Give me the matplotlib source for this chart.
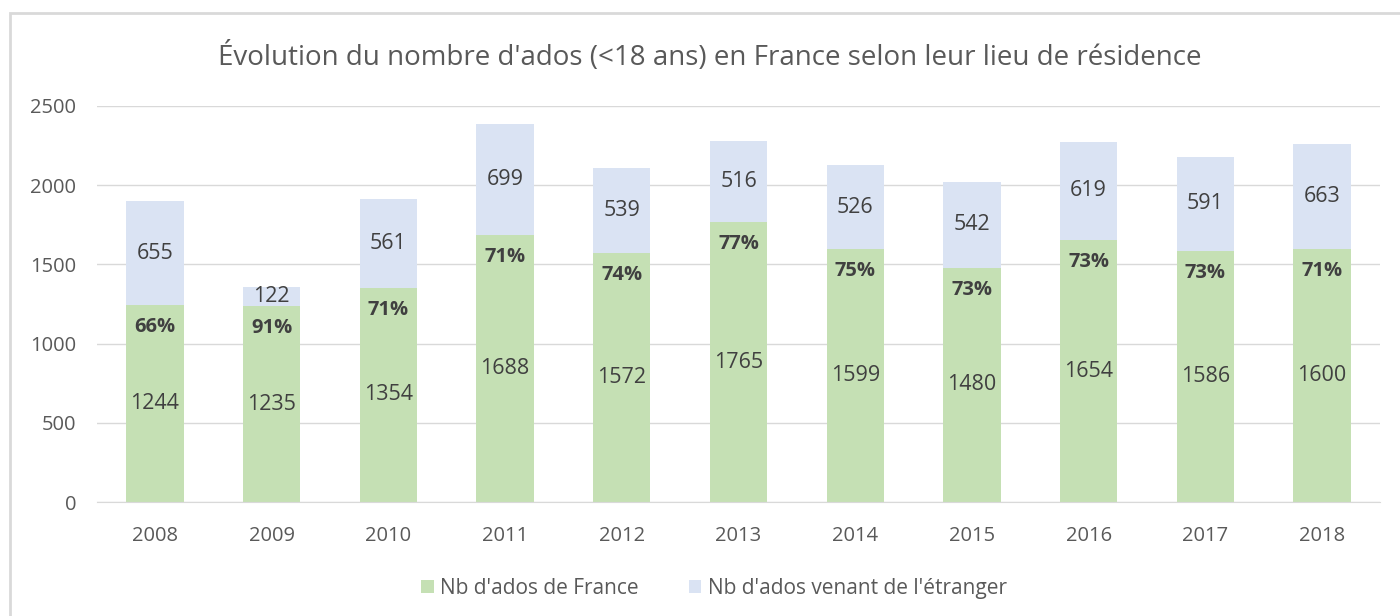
import matplotlib
matplotlib.use("Agg")
import matplotlib.pyplot as plt
from matplotlib.patches import Rectangle
import numpy as np

years = ["2008", "2009", "2010", "2011", "2012", "2013", "2014", "2015", "2016", "2017", "2018"]
france = [1244, 1235, 1354, 1688, 1572, 1765, 1599, 1480, 1654, 1586, 1600]
etranger = [655, 122, 561, 699, 539, 516, 526, 542, 619, 591, 663]

GREEN = "#C5E0B4"
BLUE = "#DAE3F3"
TXT = "#595959"
LBL = "#404040"

plt.rcParams["font.family"] = ["Open Sans", "DejaVu Sans"]

fig = plt.figure(figsize=(14, 6.16), dpi=100)
ax = fig.add_axes([0.069, 0.185, 0.917, 0.643])
x = np.arange(len(years))
w = 0.49
b1 = ax.bar(x, france, w, color=GREEN, label="Nb d'ados de France", zorder=2)
b2 = ax.bar(x, etranger, w, bottom=france, color=BLUE, label="Nb d'ados venant de l'étranger", zorder=2)

# values in the middle of each segment, share of France just under the green top
for i, (f, e) in enumerate(zip(france, etranger)):
    ax.text(i, f / 2, f"{f}", ha="center", va="center", fontsize=15.5, color=LBL)
    ax.text(i, f + e / 2, f"{e}", ha="center", va="center", fontsize=15.5, color=LBL)
    pct = round(100 * f / (f + e))
    ax.annotate(f"{pct}%", (i, f), xytext=(0, -22), textcoords="offset pixels",
                ha="center", va="center", fontsize=14.5, color=LBL, weight="bold")

ax.set_xlim(-0.5, len(years) - 0.5)
ax.set_ylim(0, 2500)
ax.set_yticks(range(0, 2501, 500))
ax.set_xticks(x, years)
ax.yaxis.grid(True, color="#D9D9D9", lw=1, zorder=0)
for s in ["top", "right", "left"]:
    ax.spines[s].set_visible(False)
ax.spines["bottom"].set_color("#D9D9D9")
ax.tick_params(length=0, labelsize=14.5, labelcolor=TXT)
ax.tick_params(axis="x", pad=17)
ax.tick_params(axis="y", pad=14.5)

fig.text(0.507, 0.908, "Évolution du nombre d'ados (<18 ans) en France selon leur lieu de résidence",
         ha="center", va="center", fontsize=20, color=TXT)
fig.legend(handles=[b1, b2], loc="center", bbox_to_anchor=(0.51, 0.045), ncol=2, frameon=False,
           fontsize=15, labelcolor=TXT, handlelength=0.6, handleheight=0.6, handletextpad=0.3,
           columnspacing=2.4)
fig.patches.append(Rectangle((0.007, -0.02), 1.05, 0.999, transform=fig.transFigure,
                             fill=False, ec="#D9D9D9", lw=2))

fig.savefig("out.png", dpi=100)
